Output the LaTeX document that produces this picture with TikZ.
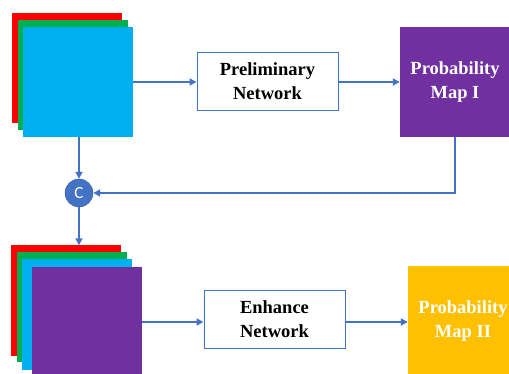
\documentclass[tikz,border=0pt]{standalone}
\usepackage{fontspec}
\setmainfont{Liberation Serif}
\newfontfamily\circfont{Carlito}
\usetikzlibrary{arrows.meta,positioning,calc}

\definecolor{lyrred}{HTML}{FF0000}
\definecolor{lyrgreen}{HTML}{00B050}
\definecolor{lyrblue}{HTML}{00B0F0}
\definecolor{lyrpurple}{HTML}{7030A0}
\definecolor{lyrgold}{HTML}{FFC000}
\definecolor{linkblue}{HTML}{4472C4}

\begin{document}
\begin{tikzpicture}[
      x=1pt,y=-1pt,
      layer/.style = {rectangle,minimum width = 110pt,minimum height = 110pt,inner sep = 0},
      netbox/.style = {rectangle,draw = linkblue,line width = 1pt,fill = white,minimum width = 141pt,minimum height = 58pt,
        align = center,font = \bfseries\fontsize{18.5}{24}\selectfont},
      mapbox/.style = {layer,align = center,text = white,font = \bfseries\fontsize{18.5}{24}\selectfont},
      concat/.style = {circle,fill = linkblue,draw = linkblue!80!black,minimum size = 28pt,inner sep = 0,
        text = white,font = \circfont\fontsize{17}{17}\selectfont},
      arrow/.style = {draw = linkblue,line width = 2.2pt,-{Triangle[length = 7pt,width = 7pt]}}
    ]
      \useasboundingbox (0,0) rectangle (509,374);
      % first input stack
      \node (tred)[layer,fill = lyrred] at (67,68) {};
      \node (tgreen)[layer,fill = lyrgreen] at (72.5,75) {};
      \node (tblue)[layer,fill = lyrblue] at (78,82) {};
      \node (prelim)[netbox] at (267.5,81.5) {Preliminary\\Network};
      \node (mapone)[mapbox,fill = lyrpurple] at (455,82) {Probability\\Map I};
      \node (cat)[concat] at (79,193) {C};
      % second input stack
      \node (bred)[layer,fill = lyrred] at (66,300.5) {};
      \node (bgreen)[layer,fill = lyrgreen] at (71.5,307) {};
      \node (bblue)[layer,fill = lyrblue] at (77,314.5) {};
      \node (bpurple)[layer,fill = lyrpurple] at (86.5,322) {};
      \node (enhance)[netbox] at (274.5,319.5) {Enhance\\Network};
      \node (maptwo)[mapbox,fill = lyrgold] at (463,321) {Probability\\Map II};

      \draw [arrow] (tblue.east) -- (tblue.east -| prelim.west);
      \draw [arrow] (tblue.east -| prelim.east) -- (tblue.east -| mapone.west);
      \draw [arrow] (mapone.south) |- (cat.east);
      \draw [arrow] (cat.north |- tblue.south) -- (cat.north);
      \draw [arrow] (cat.south) -- (cat.south |- bred.north);
      \draw [arrow] (bpurple.east) -- (bpurple.east -| enhance.west);
      \draw [arrow] (bpurple.east -| enhance.east) -- (bpurple.east -| maptwo.west);
    \end{tikzpicture}
\end{document}
